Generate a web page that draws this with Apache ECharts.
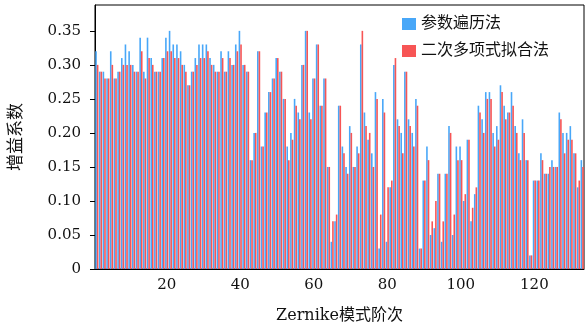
<!DOCTYPE html>
<html>
<head>
<meta charset="utf-8">
<script src="https://cdn.jsdelivr.net/npm/echarts@6/dist/echarts.min.js"></script>
<style>
  html, body { margin: 0; padding: 0; background: #fff; }
  #chart { width: 585px; height: 336px; }
</style>
</head>
<body>
<div id="chart"></div>
<script>
// Zernike mode orders 1..133
const modeOrders = Array.from({ length: 133 }, (_, i) => String(i + 1));

// Gain coefficient found by parameter sweep
const sweepGain = [
  0.32, 0.29, 0.29, 0.28, 0.32, 0.28, 0.29, 0.31, 0.33, 0.32,
  0.30, 0.29, 0.34, 0.29, 0.34, 0.31, 0.29, 0.29, 0.31, 0.34,
  0.35, 0.33, 0.33, 0.32, 0.30, 0.27, 0.29, 0.31, 0.33, 0.33,
  0.33, 0.31, 0.30, 0.29, 0.32, 0.29, 0.32, 0.30, 0.33, 0.35,
  0.30, 0.29, 0.16, 0.20, 0.32, 0.18, 0.23, 0.26, 0.28, 0.31,
  0.29, 0.25, 0.18, 0.20, 0.25, 0.23, 0.30, 0.35, 0.23, 0.28,
  0.33, 0.24, 0.28, 0.15, 0.04, 0.07, 0.24, 0.18, 0.15, 0.21,
  0.15, 0.18, 0.33, 0.23, 0.19, 0.17, 0.26, 0.03, 0.25, 0.04,
  0.12, 0.30, 0.22, 0.20, 0.29, 0.22, 0.20, 0.25, 0.03, 0.13,
  0.18, 0.05, 0.06, 0.14, 0.04, 0.14, 0.21, 0.05, 0.18, 0.18,
  0.10, 0.19, 0.07, 0.11, 0.24, 0.22, 0.26, 0.26, 0.20, 0.21,
  0.27, 0.24, 0.23, 0.26, 0.21, 0.17, 0.22, 0.16, 0.02, 0.13,
  0.13, 0.17, 0.14, 0.14, 0.16, 0.15, 0.23, 0.20, 0.20, 0.21,
  0.17, 0.12, 0.16
];

// Gain coefficient found by quadratic polynomial fit
const fitGain = [
  0.30, 0.29, 0.28, 0.28, 0.30, 0.28, 0.29, 0.30, 0.30, 0.30,
  0.29, 0.29, 0.32, 0.28, 0.31, 0.30, 0.29, 0.29, 0.31, 0.32,
  0.32, 0.31, 0.31, 0.30, 0.29, 0.27, 0.29, 0.30, 0.31, 0.31,
  0.32, 0.30, 0.29, 0.29, 0.31, 0.29, 0.31, 0.30, 0.32, 0.33,
  0.30, 0.29, 0.16, 0.20, 0.32, 0.18, 0.23, 0.26, 0.28, 0.31,
  0.29, 0.25, 0.16, 0.19, 0.24, 0.22, 0.30, 0.35, 0.22, 0.28,
  0.33, 0.24, 0.28, 0.15, 0.07, 0.08, 0.24, 0.17, 0.14, 0.20,
  0.15, 0.17, 0.35, 0.21, 0.20, 0.15, 0.25, 0.08, 0.23, 0.12,
  0.13, 0.31, 0.21, 0.17, 0.29, 0.21, 0.18, 0.24, 0.03, 0.13,
  0.16, 0.07, 0.10, 0.14, 0.07, 0.14, 0.20, 0.08, 0.16, 0.16,
  0.11, 0.19, 0.09, 0.12, 0.23, 0.20, 0.25, 0.25, 0.18, 0.19,
  0.26, 0.22, 0.23, 0.24, 0.20, 0.16, 0.20, 0.16, 0.02, 0.13,
  0.13, 0.16, 0.14, 0.15, 0.15, 0.15, 0.22, 0.17, 0.19, 0.19,
  0.17, 0.13, 0.15
];

const xTickLabels = ['20', '40', '60', '80', '100', '120'];
const yTickValues = [0, 0.05, 0.10, 0.15, 0.20, 0.25, 0.30, 0.35];

const seriesNames = ['参数遍历法', '二次多项式拟合法'];
const seriesColors = ['#48a7f8', '#f75555'];

const numFont = '"DejaVu Serif", "Liberation Serif", serif';
const cjkFont = '"DejaVu Serif", "Noto Sans CJK SC", sans-serif';

const chart = echarts.init(document.getElementById('chart'), null, { renderer: 'canvas' });
const showTick = (idx, val) => xTickLabels.indexOf(val) !== -1;

chart.setOption({
  animation: false,
  backgroundColor: '#fff',
  grid: {
    left: 93, right: 1, top: 5, bottom: 67,
    show: true, borderColor: '#000', borderWidth: 1,
    backgroundColor: 'transparent'
  },
  legend: {
    orient: 'vertical',
    left: 397, top: 11,
    itemWidth: 14, itemHeight: 12, itemGap: 11,
    icon: 'rect',
    textStyle: { fontFamily: cjkFont, fontSize: 16, color: '#111' },
    data: seriesNames
  },
  xAxis: {
    type: 'category',
    data: modeOrders,
    boundaryGap: true,
    name: 'Zernike模式阶次',
    nameLocation: 'middle',
    nameGap: 39,
    nameTextStyle: { fontFamily: cjkFont, fontSize: 16, color: '#111' },
    axisLine: { lineStyle: { color: '#000', width: 1 } },
    axisTick: { interval: showTick, alignWithLabel: true, length: 5, lineStyle: { color: '#000' } },
    axisLabel: { interval: showTick, margin: 9, fontFamily: numFont, fontSize: 15, color: '#111' },
    splitLine: { show: false }
  },
  yAxis: {
    type: 'value',
    min: 0, max: 0.388,
    name: '增益系数',
    nameLocation: 'middle',
    nameGap: 70,
    nameTextStyle: { fontFamily: cjkFont, fontSize: 17, color: '#111' },
    axisLine: { show: true, lineStyle: { color: '#000', width: 1 } },
    axisTick: { show: true, length: 5, customValues: yTickValues, lineStyle: { color: '#000' } },
    axisLabel: {
      customValues: yTickValues,
      margin: 14,
      fontFamily: numFont, fontSize: 15, color: '#111',
      formatter: v => (v === 0 ? '0' : v.toFixed(2))
    },
    splitLine: { show: false }
  },
  series: [
    {
      name: seriesNames[0], type: 'bar', data: sweepGain,
      barWidth: 1.6, barGap: '0%',
      itemStyle: { color: seriesColors[0] }
    },
    {
      name: seriesNames[1], type: 'bar', data: fitGain,
      barWidth: 1.6, barGap: '0%',
      itemStyle: { color: seriesColors[1] }
    }
  ]
});
</script>
</body>
</html>
